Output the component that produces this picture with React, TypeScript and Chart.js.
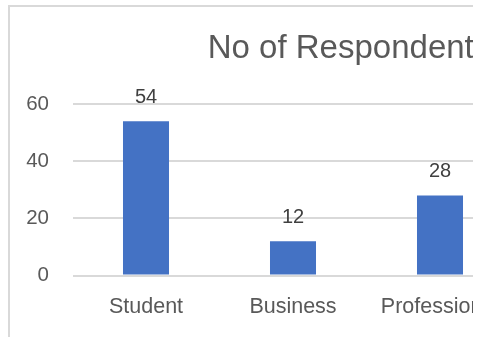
import React, { useEffect, useRef } from "react";
import { Chart, registerables } from "chart.js";

Chart.register(...registerables);

const categories = ["Student", "Business", "Professional"];
const respondents = [54, 12, 28];
const yMin = 0;
const yMax = 60;
const yStep = 20;
const chartTitle = "No of Respondents";

const FONT = "'Liberation Sans', Arial, sans-serif";
const CANVAS_W = 678;
const CANVAS_H = 333;

const valueLabels = {
  id: "valueLabels",
  afterDatasetsDraw(chart: any) {
    const { ctx } = chart;
    const meta = chart.getDatasetMeta(0);
    const values = chart.data.datasets[0].data;
    ctx.save();
    ctx.font = `20px ${FONT}`;
    ctx.fillStyle = "#404040";
    ctx.textAlign = "center";
    ctx.textBaseline = "alphabetic";
    meta.data.forEach((bar: any, i: number) => {
      ctx.fillText(String(values[i]), bar.x, bar.y - 18);
    });
    ctx.restore();
  },
};

export default function App() {
  const canvasRef = useRef<HTMLCanvasElement | null>(null);

  useEffect(() => {
    const canvas = canvasRef.current;
    if (!canvas) return;
    const chart = new Chart(canvas, {
      type: "bar",
      data: {
        labels: categories,
        datasets: [
          {
            data: respondents,
            backgroundColor: "#4472C4",
            borderWidth: 0,
            categoryPercentage: 1,
            barPercentage: 0.313,
          },
        ],
      },
      options: {
        responsive: false,
        animation: false,
        devicePixelRatio: 1,
        layout: { padding: { left: 0, right: 0, top: 0, bottom: 0.5 } },
        plugins: {
          legend: { display: false },
          tooltip: { enabled: false },
          title: {
            display: true,
            text: chartTitle,
            color: "#595959",
            font: { family: FONT, size: 33, weight: "normal" },
            padding: { top: 22, bottom: 35.4 },
          },
        },
        scales: {
          x: {
            grid: { display: false, drawTicks: false },
            border: { display: false },
            ticks: {
              color: "#595959",
              font: { family: FONT, size: 21.5 },
              padding: 19.1,
              maxRotation: 0,
              autoSkip: false,
            },
          },
          y: {
            min: yMin,
            max: yMax,
            grid: { color: "#d9d9d9", lineWidth: 2, drawTicks: false },
            border: { display: false },
            ticks: {
              stepSize: yStep,
              color: "#595959",
              font: { family: FONT, size: 20.5 },
              padding: 23.5,
            },
            afterFit: (s: any) => {
              s.width = 62.5;
            },
          },
          y2: {
            position: "right",
            display: true,
            grid: { display: false, drawTicks: false },
            border: { display: false },
            ticks: { display: false },
            afterFit: (s: any) => {
              s.width = CANVAS_W - 503.5;
            },
          },
        },
      },
      plugins: [valueLabels],
    } as any);
    return () => chart.destroy();
  }, []);

  return (
    <div
      style={{
        position: "fixed",
        top: 5,
        left: 8,
        width: 463,
        height: 332,
        overflow: "hidden",
        borderLeft: "2px solid #d9d9d9",
        borderTop: "2px solid #d9d9d9",
        background: "#ffffff",
      }}
    >
      <canvas
        ref={canvasRef}
        width={CANVAS_W}
        height={CANVAS_H}
        style={{ display: "block", width: CANVAS_W, height: CANVAS_H }}
      />
    </div>
  );
}
